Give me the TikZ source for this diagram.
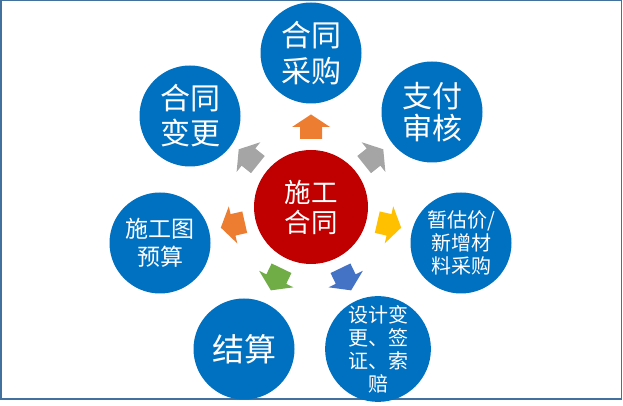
\documentclass[tikz,border=0pt]{standalone}
\usepackage{fontspec}
\newfontfamily\cjk{Noto Sans CJK SC}
\definecolor{cblue}{HTML}{0070C0}
\definecolor{cred}{HTML}{C00000}
\definecolor{aorange}{HTML}{ED7D31}
\definecolor{agray}{HTML}{A5A5A5}
\definecolor{ayellow}{HTML}{FFC000}
\definecolor{ablue}{HTML}{4472C4}
\definecolor{agreen}{HTML}{70AD47}
\definecolor{framecol}{HTML}{41719C}
\tikzset{
  sat/.style={circle, fill=cblue, minimum size=101pt, inner sep=0pt, text=white, align=center},
  hub/.style={circle, fill=cred, minimum size=114pt, inner sep=0pt, text=white, align=center},
  fz/.style n args={2}{font=\cjk\fontsize{#1}{#2}\selectfont},
  blockarrow/.pic={\path[pic actions] (-12pt,11pt) -- (0pt,11pt) -- (0pt,19pt) -- (12.5pt,0pt) -- (0pt,-19pt) -- (0pt,-11pt) -- (-12pt,-11pt) -- cycle;}
}
\begin{document}
\begin{tikzpicture}
\useasboundingbox (0pt,0pt) rectangle (623pt,406pt);
\draw[framecol, line width=1.5pt] (0.75pt,405.25pt) rectangle (621.5pt,6.8pt);
\coordinate (C) at (311pt,199pt);
% arrows
\pic[fill=aorange, rotate=90]     at ([shift={(90:80pt)}]C)     {blockarrow};
\pic[fill=agray,   rotate=38.6]   at ([shift={(38.6:80pt)}]C)   {blockarrow};
\pic[fill=ayellow, rotate=-12.9]  at ([shift={(-12.9:80pt)}]C)  {blockarrow};
\pic[fill=ablue,   rotate=-64.3]  at ([shift={(-64.3:80pt)}]C)  {blockarrow};
\pic[fill=agreen,  rotate=-115.7] at ([shift={(-115.7:80pt)}]C) {blockarrow};
\pic[fill=aorange, rotate=-167.1] at ([shift={(-167.1:80pt)}]C) {blockarrow};
\pic[fill=agray,   rotate=141.4]  at ([shift={(141.4:80pt)}]C)  {blockarrow};
% hub
\node[hub, fz={26.5}{30}] (hub) at (C) {施工\\合同};
% satellites
\node[sat, fz={30}{36}] (cg) at (311pt,353pt) {合同\\采购};
\node[sat, fz={30}{32}] (zf) at (432pt,294pt) {支付\\审核};
\node[sat, fz={20}{23}] (zg) at (461pt,163pt) {暂估价/\\新增材\\料采购};
\node[sat, fz={20}{23}] (sj) at (378pt,57pt) {设计变\\更、签\\证、索\\赔};
\node[sat, fz={32}{34}] (js) at (244pt,57pt) {结算};
\node[sat, fz={23}{28}] (st) at (160pt,163pt) {施工图\\预算};
\node[sat, fz={30}{35}] (bg) at (190pt,290pt) {合同\\变更};
\end{tikzpicture}
\end{document}
